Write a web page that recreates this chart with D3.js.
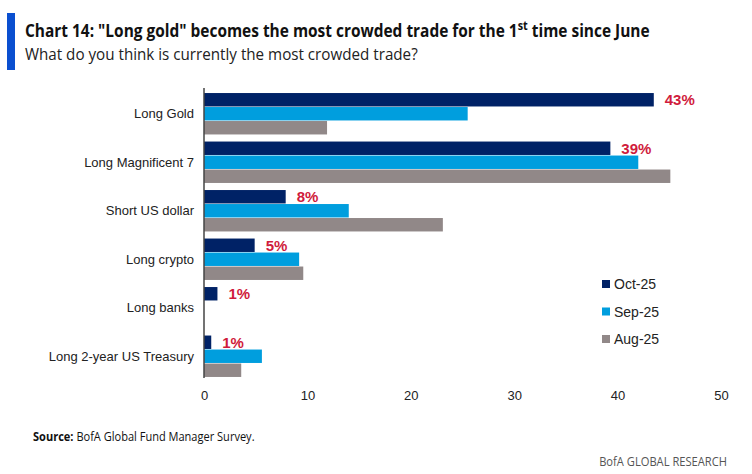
<!DOCTYPE html>
<html>
<head>
<meta charset="utf-8">
<script src="https://cdn.jsdelivr.net/npm/d3@7"></script>
<style>
  body { margin: 0; background: #fff; }
  svg { display: block; }
  .cat, .tick text, .leg { font-family: "Liberation Sans", Arial, sans-serif; fill: #222; }
</style>
</head>
<body>
<div id="chart"></div>
<script>
// data
var categories = ["Long Gold", "Long Magnificent 7", "Short US dollar", "Long crypto", "Long banks", "Long 2-year US Treasury"];
var series = ["Oct-25", "Sep-25", "Aug-25"];
var oct25 = [43.5, 39.3, 7.9, 4.9, 1.3, 0.7];
var sep25 = [25.5, 42.0, 14.0, 9.2, 0, 5.6];
var aug25 = [11.9, 45.1, 23.1, 9.6, 0, 3.6];
var octLabels = ["43%", "39%", "8%", "5%", "1%", "1%"];
var xTicks = [0, 10, 20, 30, 40, 50];
var colors = ["#002266", "#009ede", "#918888"];

var W = 752, H = 474;
var svg = d3.select("#chart").append("svg").attr("width", W).attr("height", H);

// squeeze a text node horizontally to a target width, anchored at x0
function fitWidth(sel, x0, target) {
  var w = sel.node().getComputedTextLength();
  sel.attr("transform", "translate(" + x0 + ",0) scale(" + (target / w) + ",1) translate(" + (-x0) + ",0)");
}

// header ---------------------------------------------------
svg.append("rect").attr("x", 7).attr("y", 13).attr("width", 8).attr("height", 57).attr("fill", "#0a4fd0");

var title = svg.append("text")
  .attr("x", 25).attr("y", 37)
  .style("font-family", "'Open Sans', sans-serif").style("font-weight", 700)
  .style("font-size", "18.5px").attr("fill", "#111");
title.append("tspan").text('Chart 14: "Long gold" becomes the most crowded trade for the 1');
title.append("tspan").attr("dy", -7).style("font-size", "13px").text("st");
title.append("tspan").attr("dy", 7).text(" time since June");
fitWidth(title, 25, 625);

var sub = svg.append("text")
  .attr("x", 25).attr("y", 60)
  .style("font-family", "'Open Sans', sans-serif").style("font-weight", 400)
  .style("font-size", "17px").attr("fill", "#222")
  .text("What do you think is currently the most crowded trade?");
fitWidth(sub, 25, 393);

// scales ---------------------------------------------------
var x = d3.scaleLinear().domain([0, 50]).range([204, 721]);
var y0 = d3.scaleBand().domain(categories).range([89.5, 380.5]).paddingInner(0.146).paddingOuter(0.073);
var y1 = d3.scaleBand().domain(series).range([0, y0.bandwidth()]).paddingInner(0.04);

var rows = categories.map(function (c, i) {
  return { cat: c, vals: [oct25[i], sep25[i], aug25[i]], label: octLabels[i] };
});

var g = svg.append("g").selectAll("g").data(rows).enter().append("g")
  .attr("transform", function (d) { return "translate(0," + y0(d.cat) + ")"; });

g.selectAll("rect").data(function (d) {
  return d.vals.map(function (v, k) { return { s: series[k], v: v, k: k }; });
}).enter().append("rect")
  .attr("x", x(0))
  .attr("y", function (d) { return y1(d.s); })
  .attr("height", y1.bandwidth())
  .attr("width", function (d) { return x(d.v) - x(0); })
  .attr("fill", function (d) { return colors[d.k]; });

g.append("text")
  .attr("x", function (d) { return x(d.vals[0]) + 11; })
  .attr("y", y1(series[0]) + y1.bandwidth() / 2)
  .attr("dy", "0.36em")
  .style("font-family", "'Liberation Sans Narrow', 'Liberation Sans', Arial, sans-serif")
  .style("font-weight", 700).style("font-size", "15px")
  .attr("fill", "#d01b3c")
  .text(function (d) { return d.label; });

// category labels
svg.append("g").selectAll("text").data(categories).enter().append("text")
  .attr("class", "cat")
  .attr("x", 194)
  .attr("y", function (d) { return y0(d) + y0.bandwidth() / 2; })
  .attr("dy", "0.36em")
  .attr("text-anchor", "end")
  .style("font-size", "13px")
  .text(function (d) { return d; });

// axes
svg.append("line").attr("x1", x(0)).attr("x2", x(0)).attr("y1", 88).attr("y2", 378)
  .attr("stroke", "#444").attr("stroke-width", 1.5);

var xAxis = svg.append("g").attr("transform", "translate(0,384)")
  .call(d3.axisBottom(x).tickValues(xTicks).tickSize(0).tickPadding(7));
xAxis.select(".domain").remove();
xAxis.selectAll("text").style("font-size", "13px").attr("fill", "#222");

// legend
var leg = svg.append("g").selectAll("g").data(series).enter().append("g")
  .attr("transform", function (d, i) { return "translate(602," + (284 + i * 27.5) + ")"; });
leg.append("rect").attr("x", 0).attr("y", -4).attr("width", 8).attr("height", 8)
  .attr("fill", function (d, i) { return colors[i]; });
leg.append("text").attr("class", "leg").attr("x", 12).attr("dy", "0.36em")
  .style("font-size", "14px").text(function (d) { return d; });

// footer
var src = svg.append("text").attr("x", 33).attr("y", 441)
  .style("font-family", "'Open Sans', sans-serif").style("font-size", "12px").attr("fill", "#111");
src.append("tspan").style("font-weight", 700).text("Source:");
src.append("tspan").text(" BofA Global Fund Manager Survey.");
fitWidth(src, 33, 222);

var brand = svg.append("text").attr("x", 727).attr("y", 466).attr("text-anchor", "end")
  .style("font-family", "'Open Sans', sans-serif").style("font-size", "12px").attr("fill", "#555")
  .text("BofA GLOBAL RESEARCH");
fitWidth(brand, 727, 128);
</script>
</body>
</html>
